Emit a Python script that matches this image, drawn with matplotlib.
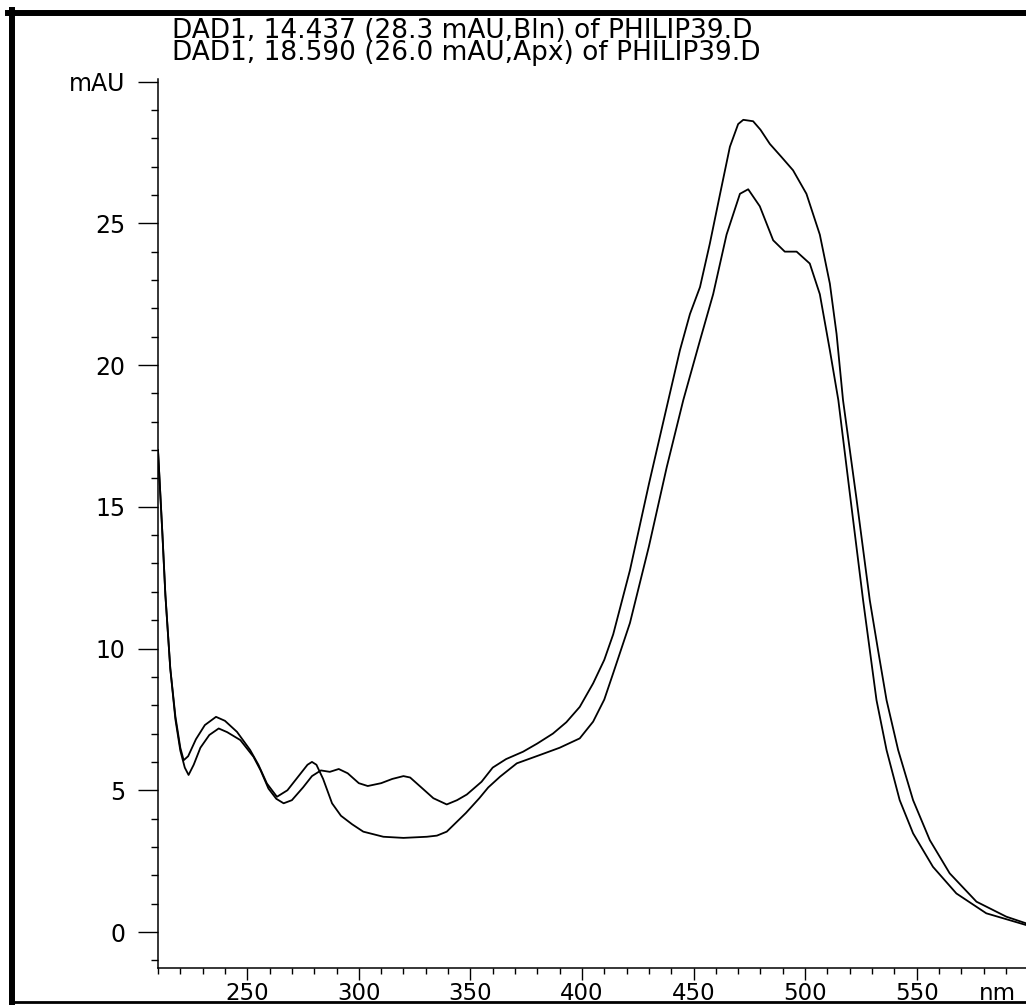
import matplotlib
matplotlib.use("Agg")
import matplotlib.pyplot as plt
from matplotlib.lines import Line2D

# spectrum 1 (DAD1, 14.437) - the taller band
wl_bln = [210, 212, 213.3, 215.5, 217.8, 220, 222, 223.7, 226, 229, 233, 237.2, 241,
          246.9, 252.8, 256, 259.5, 263, 266.3, 270, 275, 279, 283, 287, 291, 295,
          300, 304, 310, 315, 320, 323, 328, 333.4, 339.4, 344, 348.4, 355, 360, 366,
          373.6, 380, 387, 393, 399, 405, 410, 414, 421.5, 430, 438.7, 443.9, 448.4,
          452.9, 457.3, 461.8, 466.3, 470, 472.3, 476.7, 480, 484.2, 489.4, 494.6,
          500.6, 506.6, 511.1, 514.1, 517, 523, 529, 532.7, 536.5, 541.7, 548.4,
          555.9, 564.8, 576.8, 590.2, 598.9]
abs_bln = [17.0, 14.0, 11.9, 9.3, 7.5, 6.4, 5.8, 5.54, 5.9, 6.5, 6.95, 7.18, 7.05,
           6.77, 6.18, 5.7, 5.06, 4.7, 4.54, 4.65, 5.1, 5.5, 5.7, 5.65, 5.75, 5.6,
           5.25, 5.15, 5.25, 5.4, 5.5, 5.45, 5.1, 4.72, 4.5, 4.65, 4.85, 5.3, 5.8, 6.1,
           6.36, 6.65, 7.0, 7.4, 7.94, 8.77, 9.6, 10.5, 12.76, 15.8, 18.76, 20.52, 21.8,
           22.75, 24.28, 26.0, 27.7, 28.5, 28.65, 28.6, 28.3, 27.8, 27.34, 26.87,
           26.04, 24.6, 22.87, 21.1, 18.76, 15.3, 11.7, 9.94, 8.18, 6.42, 4.65,
           3.24, 2.07, 1.07, 0.54, 0.31]

# spectrum 2 (DAD1, 18.590)
wl_apx = [210, 212, 213.3, 215.5, 217.8, 220, 221.5, 223.5, 227, 231, 236, 240, 245.4,
          251.3, 255, 258.8, 263.3, 268, 273, 277, 279, 281, 284, 288, 292, 297, 302,
          311, 320, 330.5, 335, 339.4, 348, 354, 358, 363.3, 370.8, 381, 390, 399,
          405, 410, 414, 421.5, 430, 438, 445.4, 452.9, 458.8, 464.8, 470.8, 474.5,
          479.7, 485.7, 490.9, 496.2, 502.1, 506.6, 511.1, 514.9, 520, 526, 529, 532,
          536.5, 542.4, 548.4, 557.3, 567.8, 581.2, 598.9]
abs_apx = [17.0, 14.0, 11.9, 9.3, 7.6, 6.5, 6.06, 6.2, 6.8, 7.3, 7.59, 7.45, 7.06,
           6.42, 5.9, 5.24, 4.77, 5.0, 5.5, 5.9, 6.0, 5.9, 5.4, 4.54, 4.1, 3.8, 3.54,
           3.36, 3.32, 3.36, 3.4, 3.54, 4.2, 4.72, 5.1, 5.48, 5.95, 6.24, 6.5, 6.83,
           7.42, 8.2, 9.13, 10.9, 13.6, 16.4, 18.76, 20.87, 22.5, 24.6, 26.04, 26.2,
           25.6, 24.4, 24.0, 24.0, 23.58, 22.5, 20.52, 18.76, 15.5, 11.7, 9.94, 8.18,
           6.42, 4.65, 3.48, 2.3, 1.36, 0.66, 0.25]

title_lines = ["DAD1, 14.437 (28.3 mAU,Bln) of PHILIP39.D",
               "DAD1, 18.590 (26.0 mAU,Apx) of PHILIP39.D"]
x_ticks = [250, 300, 350, 400, 450, 500, 550]
y_ticks = [0, 5, 10, 15, 20, 25, 30]
y_labels = ["0", "5", "10", "15", "20", "25", "mAU"]

plt.rcParams['font.family'] = ['DejaVu Sans']

fig = plt.figure(figsize=(10.26, 10.05), dpi=100)
ax = fig.add_axes([158 / 1026, 0.0368, 1 - 158 / 1026, 0.8846])

ax.plot(wl_bln, abs_bln, color='black', lw=1.3)
ax.plot(wl_apx, abs_apx, color='black', lw=1.3)

ax.set_xlim(210, 599)
ax.set_ylim(-1.27, 30.09)

ax.spines['top'].set_visible(False)
ax.spines['right'].set_visible(False)
ax.spines['left'].set_linewidth(1.1)
ax.spines['bottom'].set_linewidth(1.1)

ax.set_xticks(x_ticks)
ax.set_xticks(range(210, 600, 10), minor=True)
ax.set_yticks(y_ticks)
ax.set_yticklabels(y_labels)
ax.set_yticks(range(-1, 31), minor=True)

ax.tick_params(axis='x', which='major', length=8.6, width=1, pad=1.2, labelsize=16.5)
ax.tick_params(axis='x', which='minor', length=4, width=1)
ax.tick_params(axis='y', which='major', length=14.4, width=1, pad=9, labelsize=17)
ax.tick_params(axis='y', which='minor', length=5, width=1)

ax.annotate('nm', xy=(578, 0), xycoords=('data', 'axes fraction'),
            xytext=(0, -9.8), textcoords='offset points',
            ha='left', va='top', fontsize=16.5, annotation_clip=False)

fig.text(172 / 1026, 1 - 17.5 / 1005, "\n".join(title_lines),
         ha='left', va='top', fontsize=19, linespacing=0.83)

# page frame
fig.add_artist(Line2D([11.5 / 1026, 11.5 / 1026], [1 - 10 / 1005, 1 - 1003 / 1005],
                      transform=fig.transFigure, color='black', lw=4.3))
fig.add_artist(Line2D([8 / 1026, 1.0], [1 - 13 / 1005, 1 - 13 / 1005],
                      transform=fig.transFigure, color='black', lw=4.3))
fig.add_artist(Line2D([10 / 1026, 1.0], [1 - 1001.5 / 1005, 1 - 1001.5 / 1005],
                      transform=fig.transFigure, color='black', lw=2.0))

fig.savefig('out.png', dpi=100)
